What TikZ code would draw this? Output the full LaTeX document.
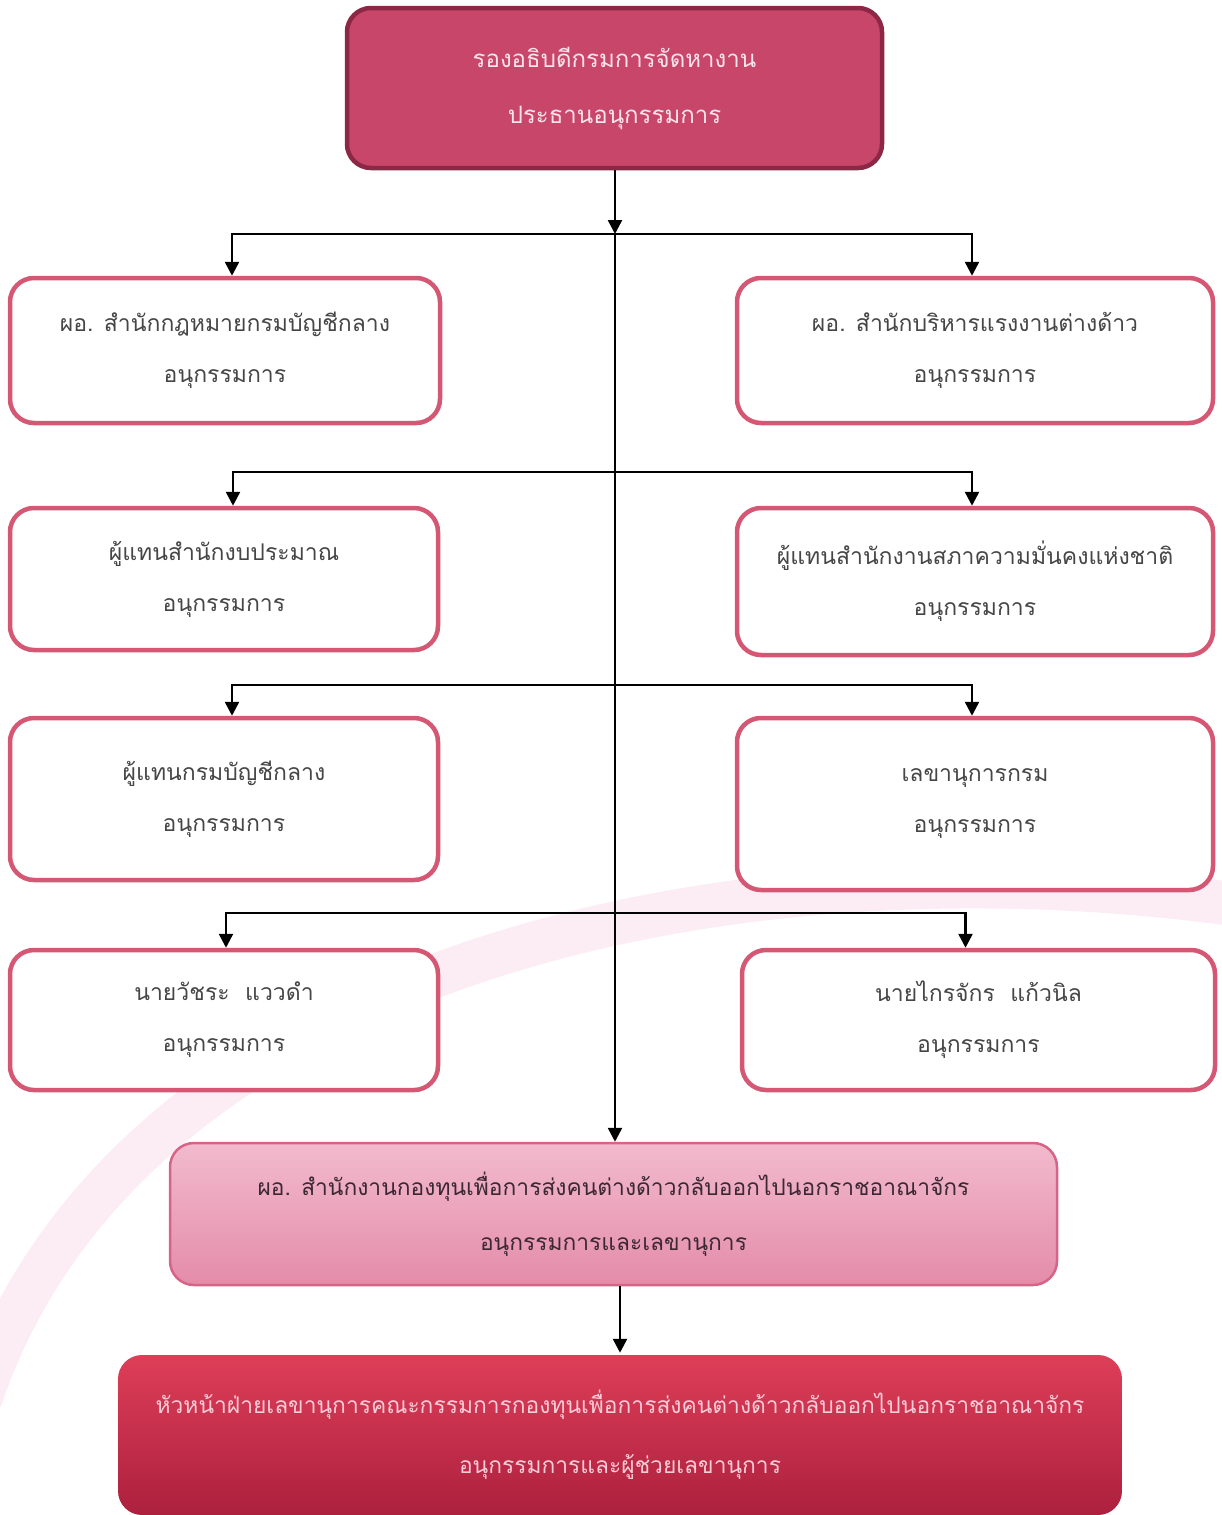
\documentclass[tikz,border=0pt]{standalone}
\usepackage{fontspec}
\newfontfamily\thaifont[Script=Thai]{Loma}
\usetikzlibrary{arrows.meta, positioning, calc}
\definecolor{boxred}{RGB}{212,88,115}
\definecolor{chairfill}{RGB}{200,70,105}
\definecolor{chairline}{RGB}{140,40,70}
\definecolor{chairtext}{RGB}{252,228,236}
\definecolor{textgrey}{RGB}{70,70,70}
\definecolor{fundline}{RGB}{214,100,135}
\definecolor{fundtext}{RGB}{60,40,50}
\definecolor{fundtop}{RGB}{242,186,205}
\definecolor{fundbot}{RGB}{228,140,170}
\definecolor{headtop}{RGB}{222,62,88}
\definecolor{headbot}{RGB}{172,32,62}
\definecolor{headtext}{RGB}{248,205,215}
\definecolor{swoosh}{RGB}{252,237,245}
\tikzset{
	member/.style={draw=boxred, line width=4.5pt, rounded corners=24pt, fill=white,
		text=textgrey, align=center, inner sep=0pt,
		font=\thaifont\fontsize{23}{51}\selectfont},
	chair/.style={member, draw=chairline, fill=chairfill, text=chairtext,
		font=\thaifont\fontsize{24}{56}\selectfont},
	fund/.style={member, draw=fundline, line width=2.5pt,
		top color=fundtop, bottom color=fundbot, text=fundtext,
		font=\thaifont\fontsize{22.8}{55}\selectfont},
	head/.style={member, draw=none, top color=headtop, bottom color=headbot,
		text=headtext, font=\thaifont\fontsize{22.8}{60}\selectfont},
	link/.style={line width=2.5pt, -{Triangle[length=14pt, width=14pt]}}
}
\begin{document}
\begin{tikzpicture}[x=1pt, y=-1pt]
	\useasboundingbox (0,0) rectangle (1221,1515);
	% faint swoosh behind the chart
	\draw[line width=44pt, swoosh]
		(-20,1400) .. controls (120,980) and (700,830) .. (1240,905);

	\node[chair, minimum width=535, minimum height=160] (boss) at (614.5,88)
		{รองอธิบดีกรมการจัดหางาน\\ประธานอนุกรรมการ};

	\node[member, minimum width=430, minimum height=145] (legal) at (225,350.5)
		{ผอ. สำนักกฎหมายกรมบัญชีกลาง\\อนุกรรมการ};
	\node[member, minimum width=476, minimum height=145] (labour) at (975,350.5)
		{ผอ. สำนักบริหารแรงงานต่างด้าว\\อนุกรรมการ};

	\node[member, minimum width=428, minimum height=142] (budget) at (224,579)
		{ผู้แทนสำนักงบประมาณ\\อนุกรรมการ};
	\node[member, minimum width=476, minimum height=147] (security) at (975,581.5)
		{ผู้แทนสำนักงานสภาความมั่นคงแห่งชาติ\\อนุกรรมการ};

	\node[member, minimum width=428, minimum height=162] (cgd) at (224,799)
		{ผู้แทนกรมบัญชีกลาง\\อนุกรรมการ};
	\node[member, minimum width=476, minimum height=172] (secdept) at (975,804)
		{เลขานุการกรม\\อนุกรรมการ};

	\node[member, minimum width=428, minimum height=140] (wat) at (224,1020)
		{นายวัชระ~~แววดำ\\อนุกรรมการ};
	\node[member, minimum width=473, minimum height=140] (krai) at (978.5,1020)
		{นายไกรจักร~~แก้วนิล\\อนุกรรมการ};

	\node[fund, minimum width=887, minimum height=142] (fund) at (613.5,1214)
		{ผอ. สำนักงานกองทุนเพื่อการส่งคนต่างด้าวกลับออกไปนอกราชอาณาจักร\\อนุกรรมการและเลขานุการ};
	\node[head, minimum width=1004, minimum height=160] (head) at (620,1435)
		{หัวหน้าฝ่ายเลขานุการคณะกรรมการกองทุนเพื่อการส่งคนต่างด้าวกลับออกไปนอกราชอาณาจักร\\อนุกรรมการและผู้ช่วยเลขานุการ};

	% junctions on the trunk
	\coordinate (j1) at (615,234);
	\coordinate (j2) at (615,472);
	\coordinate (j3) at (615,685);
	\coordinate (j4) at (615,913);

	\draw[link] (boss.south -| j1) -- (j1);
	\draw[link] (j1) -- (fund.north -| j1);
	\draw[link] (fund.south -| head.north) -- (head.north);

	\draw[link] (j1) -| ([xshift=7pt]legal.north);
	\draw[link] (j1) -| ([xshift=-3pt]labour.north);
	\draw[link] (j2) -| ([xshift=9pt]budget.north);
	\draw[link] (j2) -| ([xshift=-3pt]security.north);
	\draw[link] (j3) -| ([xshift=8pt]cgd.north);
	\draw[link] (j3) -| ([xshift=-3pt]secdept.north);
	\draw[link] (j4) -| ([xshift=2pt]wat.north);
	\draw[link] (j4) -| ([xshift=-13pt]krai.north);
\end{tikzpicture}
\end{document}
